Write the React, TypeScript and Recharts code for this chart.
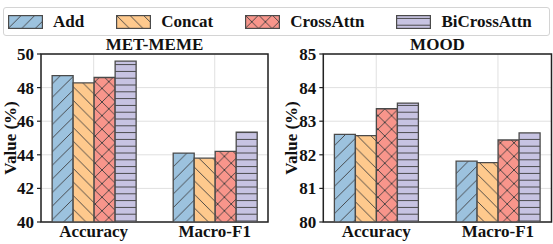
import React from 'react';
import { BarChart, Bar, XAxis, YAxis, CartesianGrid, ReferenceArea } from 'recharts';

const categories = ['Accuracy', 'Macro-F1'];
const seriesNames = ['Add', 'Concat', 'CrossAttn', 'BiCrossAttn'];

const memeAdd = [48.71, 44.1];
const memeConcat = [48.28, 43.8];
const memeCross = [48.6, 44.2];
const memeBi = [49.57, 45.35];

const moodAdd = [82.61, 81.81];
const moodConcat = [82.57, 81.77];
const moodCross = [83.37, 82.44];
const moodBi = [83.54, 82.65];

const memeTicks = [40, 42, 44, 46, 48, 50];
const moodTicks = [80, 81, 82, 83, 84, 85];

const colors = ['#9cc2de', '#fec98d', '#f8958b', '#c7c3e2'];
const hatchKinds = ['fwd', 'back', 'cross', 'horiz'];

const FONT = "'Liberation Serif', 'Times New Roman', serif";
const HATCH = '#3c3c3c';
const EDGE = '#4a4a4a';

function buildData(a: number[], c: number[], x: number[], b: number[]) {
  return categories.map((name, i) => ({
    pos: i,
    name,
    Add: a[i],
    Concat: c[i],
    CrossAttn: x[i],
    BiCrossAttn: b[i],
  }));
}

const memeData = buildData(memeAdd, memeConcat, memeCross, memeBi);
const moodData = buildData(moodAdd, moodConcat, moodCross, moodBi);

function Patterns({ prefix }: { prefix: string }) {
  const s = 13.6;
  const h = 6.8;
  return (
    <defs>
      {hatchKinds.map((k, i) => {
        const id = `${prefix}-${k}`;
        if (k === 'horiz') {
          return (
            <pattern key={id} id={id} patternUnits="userSpaceOnUse" width={h} height={h}>
              <rect width={h} height={h} fill={colors[i]} />
              <line x1={0} y1={h / 2} x2={h} y2={h / 2} stroke={HATCH} strokeWidth={0.9} />
            </pattern>
          );
        }
        const fwd = (
          <g>
            <line x1={0} y1={s} x2={s} y2={0} stroke={HATCH} strokeWidth={0.9} />
            <line x1={-2} y1={2} x2={2} y2={-2} stroke={HATCH} strokeWidth={0.9} />
            <line x1={s - 2} y1={s + 2} x2={s + 2} y2={s - 2} stroke={HATCH} strokeWidth={0.9} />
          </g>
        );
        const back = (
          <g>
            <line x1={0} y1={0} x2={s} y2={s} stroke={HATCH} strokeWidth={0.9} />
            <line x1={s - 2} y1={-2} x2={s + 2} y2={2} stroke={HATCH} strokeWidth={0.9} />
            <line x1={-2} y1={s - 2} x2={2} y2={s + 2} stroke={HATCH} strokeWidth={0.9} />
          </g>
        );
        return (
          <pattern key={id} id={id} patternUnits="userSpaceOnUse" width={s} height={s}>
            <rect width={s} height={s} fill={colors[i]} />
            {(k === 'fwd' || k === 'cross') && fwd}
            {(k === 'back' || k === 'cross') && back}
          </pattern>
        );
      })}
    </defs>
  );
}

function YLabel(props: any) {
  const vb = props.viewBox || { x: 0, y: 0, width: 0, height: 0 };
  const cy = vb.y + vb.height / 2;
  const cx = props.cx;
  return (
    <text
      x={cx}
      y={cy}
      transform={`rotate(-90, ${cx}, ${cy})`}
      textAnchor="middle"
      dominantBaseline="central"
      style={{ fontFamily: FONT, fontWeight: 'bold', fontSize: 17 }}
      fill="#111"
    >
      Value (%)
    </text>
  );
}

type PanelProps = {
  prefix: string;
  data: any[];
  domain: [number, number];
  ticks: number[];
  width: number;
  yAxisWidth: number;
  marginRight: number;
  labelX: number;
};

const X_DOMAIN: [number, number] = [-0.435, 1.44];

function Panel({ prefix, data, domain, ticks, width, yAxisWidth, marginRight, labelX }: PanelProps) {
  const tickStyle = { fill: '#111', fontSize: 17, fontWeight: 'bold', fontFamily: FONT };
  return (
    <BarChart
      width={width}
      height={244}
      data={data}
      margin={{ top: 54, right: marginRight, bottom: 0, left: 0 }}
      barGap={0}
      barSize={21}
      style={{ fontFamily: FONT }}
    >
      <Patterns prefix={prefix} />
      <CartesianGrid stroke="#e0e0e0" strokeWidth={1} />
      <XAxis
        dataKey="pos"
        type="number"
        domain={X_DOMAIN}
        allowDataOverflow
        ticks={[0, 1]}
        tickFormatter={(v: number) => categories[v] ?? ''}
        height={22}
        axisLine={false}
        tickLine={false}
        tickSize={0}
        tickMargin={3}
        tick={tickStyle}
        interval={0}
      />
      <YAxis
        type="number"
        domain={domain}
        ticks={ticks}
        allowDataOverflow
        width={yAxisWidth}
        axisLine={false}
        tickLine={{ stroke: '#222', strokeWidth: 1.2 }}
        tickSize={4}
        tickMargin={3}
        tick={tickStyle}
        interval={0}
        label={<YLabel cx={labelX} />}
      />
      {seriesNames.map((name, i) => (
        <Bar
          key={name}
          dataKey={name}
          fill={`url(#${prefix}-${hatchKinds[i]})`}
          stroke={EDGE}
          strokeWidth={1.3}
          isAnimationActive={false}
        />
      ))}
      <ReferenceArea
        x1={X_DOMAIN[0]}
        x2={X_DOMAIN[1]}
        y1={domain[0]}
        y2={domain[1]}
        fill="none"
        fillOpacity={0}
        stroke="#222"
        strokeWidth={1.5}
        ifOverflow="visible"
      />
    </BarChart>
  );
}

function Legend() {
  return (
    <div
      style={{
        position: 'absolute',
        left: 3,
        top: 7,
        width: 545,
        height: 27,
        border: '1px solid #d4d4d4',
        borderRadius: 3,
        background: '#fff',
        display: 'flex',
        alignItems: 'center',
        boxSizing: 'content-box',
      }}
    >
      <svg width={0} height={0} style={{ position: 'absolute' }}>
        <Patterns prefix="lg" />
      </svg>
      <div style={{ display: 'flex', alignItems: 'center', marginLeft: 4, columnGap: 32 }}>
        {seriesNames.map((name, i) => (
          <div key={name} style={{ display: 'flex', alignItems: 'center' }}>
            <svg width={35} height={14} style={{ display: 'block' }}>
              <rect
                x={0.6}
                y={0.6}
                width={33.8}
                height={12.8}
                fill={`url(#lg-${hatchKinds[i]})`}
                stroke={EDGE}
                strokeWidth={1.2}
              />
            </svg>
            <span
              style={{
                marginLeft: 10,
                fontFamily: FONT,
                fontWeight: 'bold',
                fontSize: 17,
                color: '#111',
                lineHeight: '18px',
              }}
            >
              {name}
            </span>
          </div>
        ))}
      </div>
    </div>
  );
}

function Title({ text, center }: { text: string; center: number }) {
  return (
    <div
      style={{
        position: 'absolute',
        left: center - 100,
        width: 200,
        top: 35,
        textAlign: 'center',
        fontFamily: FONT,
        fontWeight: 'bold',
        fontSize: 17,
        lineHeight: '20px',
        color: '#111',
      }}
    >
      {text}
    </div>
  );
}

export default function App() {
  return (
    <div
      style={{
        position: 'absolute',
        left: 0,
        top: 0,
        width: 553,
        height: 244,
        background: '#fff',
        overflow: 'hidden',
        fontFamily: FONT,
      }}
    >
      <div style={{ position: 'absolute', left: 0, top: 0 }}>
        <Panel
          prefix="meme"
          data={memeData}
          domain={[40, 50]}
          ticks={memeTicks}
          width={276}
          yAxisWidth={41}
          marginRight={8}
          labelX={10}
        />
      </div>
      <div style={{ position: 'absolute', left: 276, top: 0 }}>
        <Panel
          prefix="mood"
          data={moodData}
          domain={[80, 85]}
          ticks={moodTicks}
          width={277}
          yAxisWidth={47.3}
          marginRight={1.5}
          labelX={15}
        />
      </div>
      <Legend />
      <Title text="MET-MEME" center={154.5} />
      <Title text="MOOD" center={437.5} />
    </div>
  );
}
